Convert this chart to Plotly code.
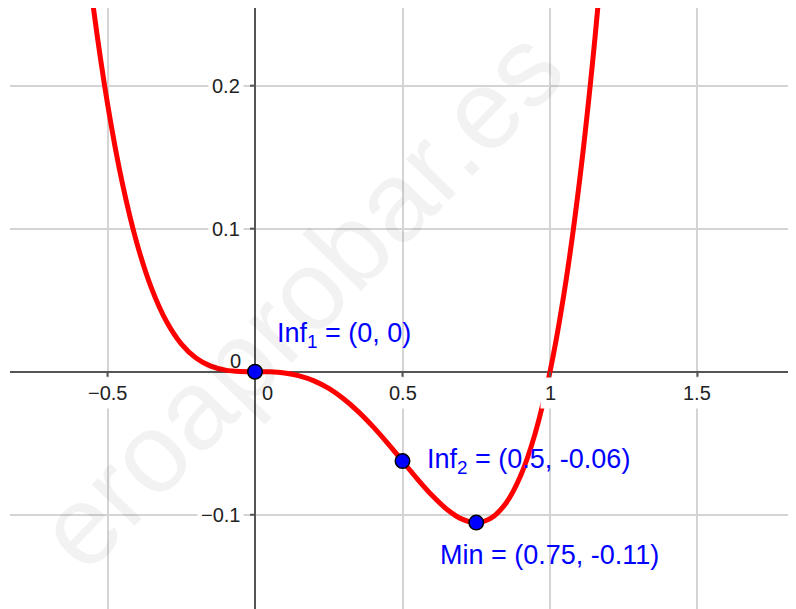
import plotly.graph_objects as go

# Sampled curve y = f(x)
curve_x = [-0.60, -0.55, -0.50, -0.45, -0.40, -0.35, -0.30, -0.25, -0.20, -0.15,
           -0.10, -0.05, 0.00, 0.05, 0.10, 0.15, 0.20, 0.25, 0.30, 0.35, 0.40,
           0.45, 0.50, 0.55, 0.60, 0.65, 0.70, 0.75, 0.80, 0.85, 0.90, 0.95,
           1.00, 1.05, 1.10, 1.15, 1.20]
curve_y = [0.3456, 0.2579, 0.1875, 0.1321, 0.0896, 0.0579, 0.0351, 0.0195, 0.0096,
           0.0039, 0.0011, 0.0001, 0.0000, -0.0001, -0.0009, -0.0029, -0.0064,
           -0.0117, -0.0189, -0.0279, -0.0384, -0.0501, -0.0625, -0.0749, -0.0864,
           -0.0961, -0.1029, -0.1055, -0.1024, -0.0921, -0.0729, -0.0429, 0.0000,
           0.0579, 0.1331, 0.2281, 0.3456]

# Special points: inflections and minimum
point_names = ["Inf<sub>1</sub>", "Inf<sub>2</sub>", "Min"]
point_x = [0.0, 0.5, 0.75]
point_y = [0.0, -0.0625, -0.1055]

# Axis ticks
x_ticks = [-0.5, 0, 0.5, 1, 1.5]
x_tick_labels = ["\u22120.5", "0", "0.5", "1", "1.5"]
y_ticks = [-0.1, 0, 0.1, 0.2]
y_tick_labels = ["\u22120.1", "0", "0.1", "0.2"]

X_RANGE = [-0.8305, 1.8068]
Y_RANGE = [-0.1659, 0.2543]

TICK_FONT = dict(family="Liberation Sans, Arial, sans-serif", size=20, color="#222222")
LABEL_FONT = dict(family="Liberation Sans, Arial, sans-serif", size=27, color="#0000ff")


def fmt(v):
    s = f"{v:.2f}".rstrip("0").rstrip(".")
    return "0" if s in ("-0", "") else s


fig = go.Figure()

fig.add_trace(go.Scatter(
    x=curve_x, y=curve_y, mode="lines",
    line=dict(color="#ff0000", width=5, shape="spline", smoothing=1.0),
    hoverinfo="skip", showlegend=False,
))

fig.add_trace(go.Scatter(
    x=point_x, y=point_y, mode="markers",
    marker=dict(color="#0000ff", size=14.5, line=dict(color="#000000", width=1.5)),
    hoverinfo="skip", showlegend=False,
))

annotations = []

# Faint diagonal watermark
annotations.append(dict(
    text="eroaprobar.es", xref="paper", yref="paper", x=0.372, y=0.516,
    xanchor="center", yanchor="middle", textangle=-46, showarrow=False,
    font=dict(family="Liberation Sans, Arial, sans-serif", size=113,
              color="rgba(0,0,0,0.05)"),
))

shapes = []

# X tick labels and tick marks on the horizontal axis
for t, lab in zip(x_ticks, x_tick_labels):
    if t == 0:
        annotations.append(dict(text=lab, x=t, y=0, xref="x", yref="y",
                                xanchor="center", yanchor="middle",
                                xshift=12, yshift=-21, showarrow=False,
                                font=TICK_FONT))
        continue
    annotations.append(dict(text=lab, x=t, y=0, xref="x", yref="y",
                            xanchor="center", yanchor="middle", yshift=-21,
                            showarrow=False, font=TICK_FONT,
                            bgcolor="white", borderpad=4))
    shapes.append(dict(type="line", xref="x", yref="y", ysizemode="pixel",
                       yanchor=0, x0=t, x1=t, y0=0, y1=-5,
                       line=dict(color="#555555", width=2)))

# Y tick labels and tick marks on the vertical axis
for t, lab in zip(y_ticks, y_tick_labels):
    if t == 0:
        annotations.append(dict(text=lab, x=0, y=t, xref="x", yref="y",
                                xanchor="right", yanchor="middle",
                                xshift=-12, yshift=11, showarrow=False,
                                font=TICK_FONT))
        continue
    annotations.append(dict(text=lab, x=0, y=t, xref="x", yref="y",
                            xanchor="right", yanchor="middle", xshift=-11,
                            showarrow=False, font=TICK_FONT,
                            bgcolor="white", borderpad=3))
    shapes.append(dict(type="line", xref="x", yref="y", xsizemode="pixel",
                       xanchor=0, x0=0, x1=-5, y0=t, y1=t,
                       line=dict(color="#555555", width=2)))

# Point labels
label_offsets = [(20, 37), (22, 0), (-38, -32)]
for name, px, py, (dx, dy) in zip(point_names, point_x, point_y, label_offsets):
    annotations.append(dict(
        text=f"{name} = ({fmt(px)}, {fmt(py)})", x=px, y=py, xref="x", yref="y",
        xanchor="left", yanchor="middle", xshift=dx, yshift=dy,
        showarrow=False, font=LABEL_FONT,
    ))

fig.update_layout(
    width=796, height=609,
    margin=dict(l=10, r=8, t=8, b=0),
    paper_bgcolor="white", plot_bgcolor="white",
    xaxis=dict(range=X_RANGE, tickvals=x_ticks, showticklabels=False,
               showgrid=True, gridcolor="#d4d4d4", gridwidth=1.5,
               zeroline=True, zerolinecolor="#555555", zerolinewidth=2,
               showline=False, ticks="", fixedrange=True),
    yaxis=dict(range=Y_RANGE, tickvals=[-0.1, 0.1, 0.2], showticklabels=False,
               showgrid=True, gridcolor="#d4d4d4", gridwidth=1.5,
               zeroline=True, zerolinecolor="#555555", zerolinewidth=2,
               showline=False, ticks="", fixedrange=True),
    annotations=annotations,
    shapes=shapes,
)

fig.write_html("out.html")
